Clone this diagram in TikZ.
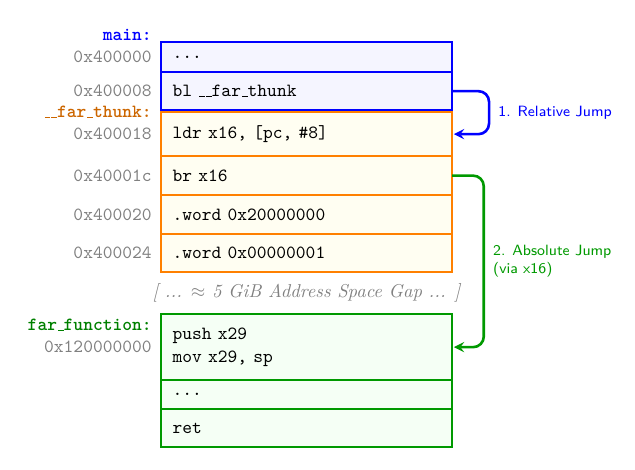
\documentclass[tikz,border=0pt]{standalone}
\usepackage{tikz}
\usetikzlibrary{calc, positioning, arrows.meta}

\newcommand{\uscore}{\kern.06em\vbox{\hrule width.3em}}

\begin{document}
\begin{tikzpicture}[
		coderow/.style={rectangle, draw, line width=1pt, minimum width=5.5cm, text width=5.06cm, inner xsep=0.22cm, inner ysep=0pt, outer sep=0pt, align=left, font=\ttfamily},
		mainrow/.style={coderow, draw=blue, fill=blue!4},
		thunkrow/.style={coderow, draw=orange, fill=yellow!5},
		farrow/.style={coderow, draw=green!60!black, fill=green!4},
		addr/.style={inner sep=0pt, text=gray, font=\ttfamily},
		sect/.style={inner sep=0pt, anchor=base east, font=\ttfamily\bfseries},
		gap/.style={text=gray, font=\itshape},
		jump/.style={->, >=stealth, line width=1.4pt, rounded corners=0.2cm, shorten >=1pt},
		jumplabel/.style={right, xshift=1pt, font=\footnotesize\sffamily, align=left}
		]

		\useasboundingbox (0,0) rectangle (12,8.866);

		\node[mainrow, minimum height=0.567cm, anchor=north west] (main1) at (3.042,8.069) {...};
		\node[mainrow, minimum height=0.718cm, below=0pt of main1] (main2) {bl \uscore\uscore far\uscore thunk};

		\node[thunkrow, minimum height=0.831cm, below=0.038cm of main2] (thunk1) {ldr x16, [pc, \#8]};
		\node[thunkrow, minimum height=0.737cm, below=0pt of thunk1] (thunk2) {br x16};
		\node[thunkrow, minimum height=0.737cm, below=0pt of thunk2] (thunk3) {.word 0x20000000};
		\node[thunkrow, minimum height=0.718cm, below=0pt of thunk3] (thunk4) {.word 0x00000001};

		\node[farrow, minimum height=1.247cm, below=0.794cm of thunk4] (far1) {push x29\\mov x29, sp};
		\node[farrow, minimum height=0.548cm, below=0pt of far1] (far2) {...};
		\node[farrow, minimum height=0.718cm, below=0pt of far2] (far3) {ret};

		\node[addr, left=0.17cm of main1] (addr1) {0x400000};
		\node[addr, left=0.17cm of main2] (addr2) {0x400008};
		\node[addr, left=0.17cm of thunk1] (addr3) {0x400018};
		\node[addr, left=0.17cm of thunk2] (addr4) {0x40001c};
		\node[addr, left=0.17cm of thunk3] (addr5) {0x400020};
		\node[addr, left=0.17cm of thunk4] (addr6) {0x400024};
		\node[addr, left=0.17cm of far1] (addr7) {0x120000000};

		\node[sect, text=blue] (lblmain) at ($(addr1.base east)+(0,0.416)$) {main:};
		\node[sect, text=orange!80!black] (lblthunk) at ($(addr3.base east)+(0,0.416)$) {\uscore\uscore far\uscore thunk:};
		\node[sect, text=green!50!black] (lblfar) at ($(addr7.base east)+(0,0.416)$) {far\uscore function:};

		\node[gap] (gaptext) at ($(thunk4.south)!0.5!(far1.north)$) {[ ... $\approx$ 5 GiB Address Space Gap ... ]};

		\draw[jump, blue] (main2.east) -- ++(0.7,0) |- (thunk1.east) node[jumplabel, pos=0.25] {1. Relative Jump};
		\draw[jump, green!60!black] (thunk2.east) -- ++(0.6,0) |- (far1.east) node[jumplabel, pos=0.25] {2. Absolute Jump\\(via x16)};

	\end{tikzpicture}
\end{document}
